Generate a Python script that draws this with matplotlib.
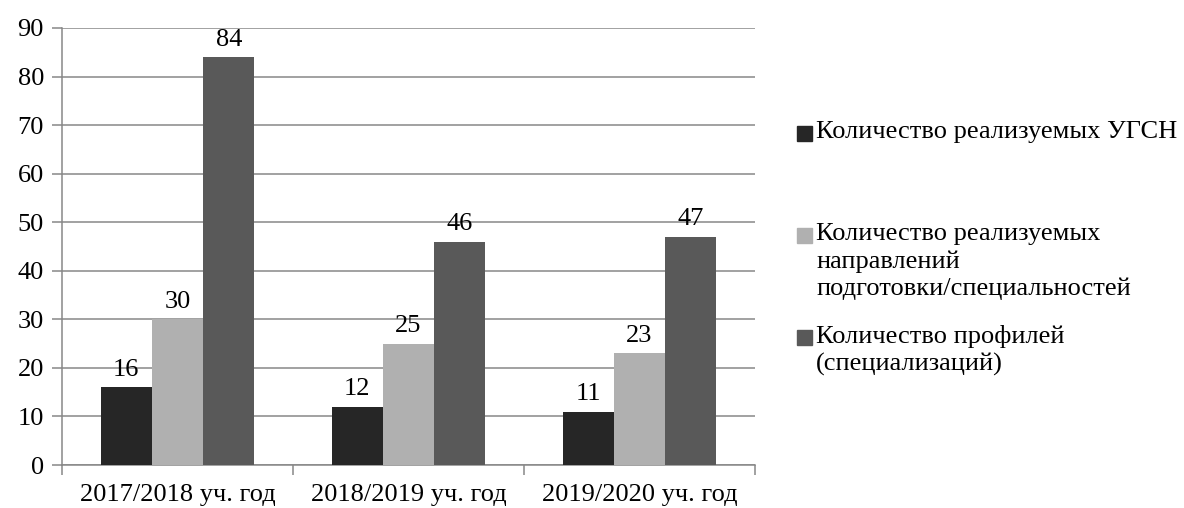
import numpy as np
import matplotlib.pyplot as plt
from matplotlib.patches import Rectangle

plt.rcParams['font.family'] = ['Liberation Serif', 'DejaVu Serif']

# data
years = ['2017/2018 уч. год', '2018/2019 уч. год', '2019/2020 уч. год']
ugsn = [16, 12, 11]
napr = [30, 25, 23]
prof = [84, 46, 47]
series_names = ['Количество реализуемых УГСН',
                'Количество реализуемых\nнаправлений\nподготовки/специальностей',
                'Количество профилей\n(специализаций)']
colors = ['#262626', '#b0b0b0', '#595959']

fs = 19
fig = plt.figure(figsize=(11.84, 5.08), dpi=100)
ax = fig.add_axes([0.0524, 0.0846, 0.5853, 0.8603])

x = np.arange(len(years))
w = 0.222
for k, vals in enumerate([ugsn, napr, prof]):
    bars = ax.bar(x + (k - 1) * w, vals, w, color=colors[k], zorder=3)
    for b, v in zip(bars, vals):
        ax.text(b.get_x() + b.get_width() / 2, v + 1.3, str(v), ha='center',
                va='bottom', fontsize=fs)

ax.set_xlim(-0.5, 2.5)
ax.set_ylim(0, 90)
ax.set_yticks(range(0, 91, 10))
ax.yaxis.grid(True, color='#878787', linewidth=1.1, zorder=0)
ax.set_xticks([-0.5, 0.5, 1.5, 2.5])
ax.set_xticklabels([])
ax.set_xticks(x, minor=True)
ax.set_xticklabels(years, minor=True, fontsize=fs)
ax.tick_params(axis='x', which='minor', length=0, pad=14)
ax.tick_params(axis='x', which='major', length=7, color='#878787', width=1.1)
ax.tick_params(axis='y', length=7, color='#878787', width=1.1, labelsize=fs, pad=6)
for s in ['top', 'right']:
    ax.spines[s].set_visible(False)
for s in ['left', 'bottom']:
    ax.spines[s].set_color('#878787')
    ax.spines[s].set_linewidth(1.1)

# legend drawn by hand
W, H = 1184, 508
leg_y = [133, 235, 337]
for k in range(3):
    yc = leg_y[k]
    fig.patches.append(Rectangle((797 / W, 1 - (yc + 7.5) / H), 15 / W, 15 / H,
                                 transform=fig.transFigure, color=colors[k]))
    fig.text(816 / W, 1 - (yc - 12) / H, series_names[k], fontsize=fs,
             va='top', ha='left', linespacing=1.3)

fig.savefig('out.png', dpi=100)
